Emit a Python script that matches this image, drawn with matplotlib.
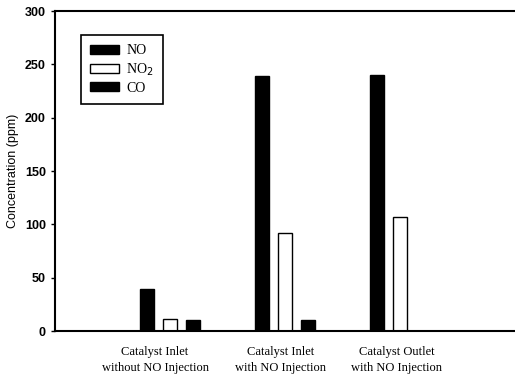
import matplotlib
matplotlib.use("Agg")
import matplotlib.pyplot as plt
import numpy as np

# datos
categories = ["Catalyst Inlet\nwithout NO Injection",
              "Catalyst Inlet\nwith NO Injection",
              "Catalyst Outlet\nwith NO Injection"]
no_vals = [39, 239, 240]
no2_vals = [11, 92, 107]
co_vals = [10, 10, 0]

fig = plt.figure(figsize=(5.15, 3.78), dpi=100)
ax = fig.add_axes([55/515, (378-331)/378, 460/515, 320/378])

x = np.arange(1, len(categories) + 1)
w = 0.13
d = 0.2
ax.bar(x - d, no_vals, w, color="black", edgecolor="black", label="NO")
ax.bar(x, no2_vals, w, color="white", edgecolor="black", linewidth=1.0, label="NO$_2$")
ax.bar(x + d, [v if v > 0 else np.nan for v in co_vals], w, color="black",
       edgecolor="black", label="CO")

ax.set_xlim(0, 4)
ax.set_ylim(0, 300)
ax.set_yticks([0, 50, 100, 150, 200, 250, 300])
# las etiquetas del original no estan centradas en los grupos
ax.set_xticks(x + np.array([-0.13, -0.04, -0.03]))
ax.set_xticklabels(categories, family="Liberation Serif", fontsize=9, linespacing=1.45)
ax.tick_params(axis="x", length=0, pad=11)
ax.tick_params(axis="y", direction="out", length=3, width=1, labelsize=9)
for lab in ax.get_yticklabels():
    lab.set_family("Liberation Sans")
    lab.set_fontweight("bold")
ax.set_ylabel("Concentration (ppm)", family="Liberation Sans", fontsize=9, labelpad=4)

for s in ["left", "bottom", "top"]:
    ax.spines[s].set_linewidth(1.5)
ax.spines["right"].set_visible(False)

leg = ax.legend(loc="upper left", bbox_to_anchor=(0.0565, 0.925), frameon=True,
                fancybox=False, edgecolor="black", framealpha=1,
                prop={"family": "Liberation Serif", "size": 10},
                handlelength=2.1, handleheight=0.6, handletextpad=0.5,
                labelspacing=0.3, borderpad=0.65, borderaxespad=0)
leg.get_frame().set_linewidth(1.2)

fig.savefig("out.png", dpi=100)
